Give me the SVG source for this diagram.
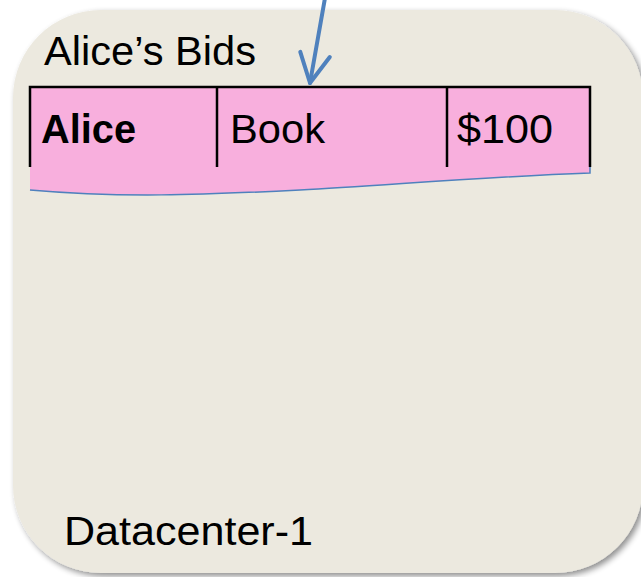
<svg xmlns="http://www.w3.org/2000/svg" width="641" height="577" viewBox="0 0 641 577">
<style>
.t{font-family:"Liberation Sans",Arial,sans-serif;fill:#000;}
.cell{fill:none;stroke:#000;stroke-width:2.5;}
</style>
<defs>
<filter id="sh" x="-10%" y="-10%" width="130%" height="130%">
<feGaussianBlur in="SourceAlpha" stdDeviation="3"/>
<feOffset dx="3" dy="3"/>
<feComponentTransfer><feFuncA type="linear" slope="0.45"/></feComponentTransfer>
<feMerge><feMergeNode/><feMergeNode in="SourceGraphic"/></feMerge>
</filter>
<marker id="ah" viewBox="0 0 20 20" refX="17" refY="10" markerWidth="10" markerHeight="10" markerUnits="strokeWidth" orient="auto">
<path d="M2.5,2.5 L17,10 L2.5,17.5" fill="none" stroke="#4F81BD" stroke-width="2" stroke-linecap="round" stroke-linejoin="round"/>
</marker>
</defs>
<g id="datacenter">
<rect x="13" y="10" width="630" height="563" rx="88" ry="88" fill="#ECE9DF" filter="url(#sh)"/>
<text class="t" x="64" y="545" font-size="40" textLength="249" lengthAdjust="spacingAndGlyphs">Datacenter-1</text>
</g>
<g id="table">
<text class="t" x="44" y="65" font-size="40" textLength="212" lengthAdjust="spacingAndGlyphs">Alice’s Bids</text>
<path d="M30,87 L590,87 L590,173 C480,177 380,186 300,190 C200,195 120,198 30,190 Z" fill="#F8AFDD"/>
<path d="M590,167 L590,173 C480,177 380,186 300,190 C200,195 120,198 30,190" fill="none" stroke="#4F81BD" stroke-width="1.5"/>
<path class="cell" d="M30,167 L30,87 L590,87 L590,167 M217,87 L217,167 M447,87 L447,167"/>
<text class="t" x="41" y="143" font-size="40" font-weight="bold" textLength="95" lengthAdjust="spacingAndGlyphs">Alice</text>
<text class="t" x="230" y="143" font-size="40" textLength="95" lengthAdjust="spacingAndGlyphs">Book</text>
<text class="t" x="457" y="143" font-size="40" textLength="96" lengthAdjust="spacingAndGlyphs">$100</text>
</g>
<g id="connectors">
<line x1="325" y1="-2" x2="310" y2="83" stroke="#4F81BD" stroke-width="4" stroke-linecap="round" marker-end="url(#ah)"/>
</g>
</svg>
